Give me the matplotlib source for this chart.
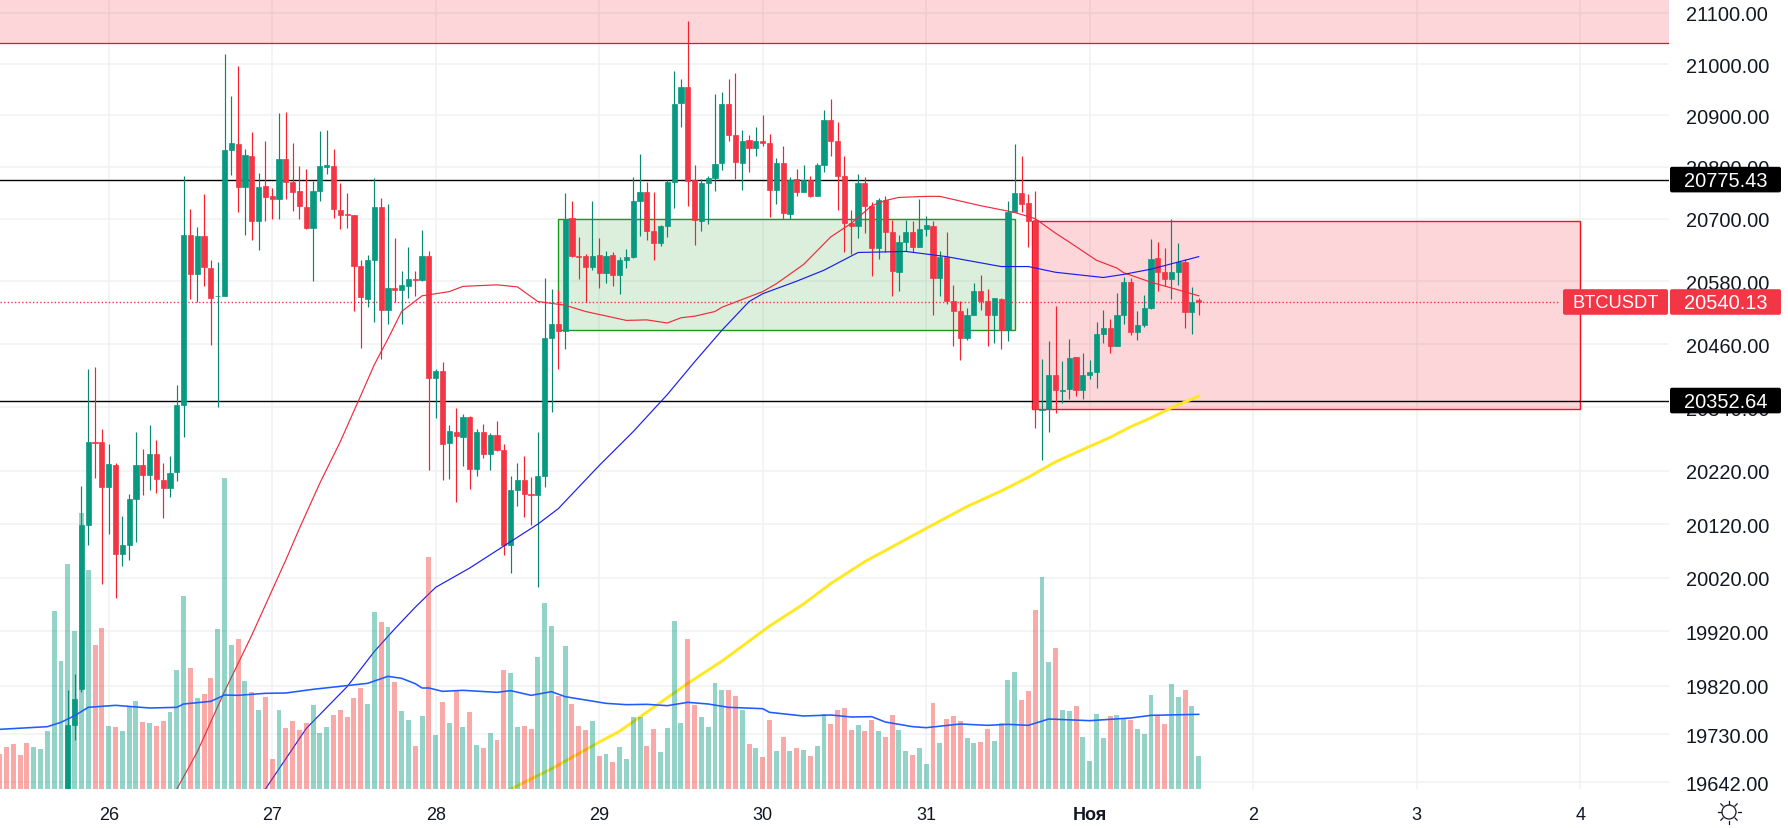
import math
import matplotlib
matplotlib.use('Agg')
import matplotlib.pyplot as plt
from matplotlib.patches import FancyBboxPatch, Rectangle, Circle
from matplotlib.lines import Line2D
from matplotlib.transforms import IdentityTransform

plt.rcParams['font.family'] = ['Liberation Sans', 'DejaVu Sans']

# hourly candles, hour 0 = 26 Oct 00:00, first candle on screen is hour -6
first_candle = -6
opens = [19630,19747,19813,20119,20275,20275,20189,20230,20064,20080,
         20167,20230,20212,20251,20203,20188,20217,20345,20669,20594,
         20666,20605,20551,20552,20832,20845,20762,20821,20695,20763,
         20743,20737,20816,20770,20754,20722,20682,20754,20799,20802,
         20717,20709,20707,20610,20546,20621,20722,20524,20566,20563,
         20570,20584,20583,20629,20396,20408,20272,20294,20284,20322,
         20224,20294,20251,20288,20259,20081,20183,20203,20177,20175,
         20210,20472,20498,20485,20702,20629,20629,20608,20630,20596,
         20630,20591,20620,20626,20735,20752,20677,20653,20685,20770,
         20924,20955,20774,20696,20768,20778,20807,20922,20862,20808,
         20853,20837,20850,20846,20756,20808,20709,20776,20751,20774,
         20743,20803,20891,20850,20783,20691,20686,20769,20725,20644,
         20736,20674,20598,20656,20675,20646,20680,20686,20586,20627,
         20542,20522,20471,20516,20561,20542,20516,20546,20486,20712,
         20749,20730,20698,20334,20337,20402,20371,20374,20435,20372,
         20401,20407,20480,20490,20456,20515,20578,20483,20496,20529,
         20624,20598,20584,20597,20617,20521,20543]
highs = [19811,19842,20192,20412,20416,20298,20271,20235,20136,20176,
         20294,20262,20307,20278,20234,20248,20382,20783,20718,20684,
         20748,20621,20617,21019,20938,20997,20834,20868,20789,20851,
         20760,20905,20907,20847,20802,20796,20773,20870,20871,20835,
         20768,20750,20708,20621,20631,20778,20739,20728,20663,20600,
         20645,20599,20678,20638,20412,20426,20307,20339,20328,20324,
         20298,20308,20292,20313,20270,20211,20234,20248,20208,20294,
         20587,20565,20563,20749,20735,20665,20632,20735,20663,20637,
         20636,20626,20641,20780,20824,20770,20751,20687,20774,20986,
         20970,21084,20804,20776,20783,20941,20946,20970,20983,20872,
         20861,20877,20901,20864,20817,20841,20780,20796,20803,20782,
         20807,20910,20931,20888,20822,20716,20787,20780,20733,20739,
         20743,20698,20668,20697,20695,20737,20705,20695,20637,20674,
         20573,20542,20528,20576,20592,20565,20547,20548,20735,20845,
         20821,20747,20754,20431,20466,20533,20427,20470,20436,20442,
         20430,20501,20525,20507,20558,20588,20586,20522,20554,20661,
         20655,20644,20700,20653,20623,20569,20548]
lows = [19630,19720,19808,20081,20206,20009,20101,19983,20042,20053,
        20086,20175,20184,20179,20131,20171,20201,20284,20545,20541,
        20571,20458,20340,20552,20785,20712,20669,20659,20640,20695,
        20700,20700,20737,20715,20700,20681,20581,20735,20787,20702,
        20681,20682,20522,20453,20531,20502,20432,20498,20541,20498,
        20548,20551,20581,20221,20320,20202,20205,20162,20229,20185,
        20210,20245,20221,20257,20062,20029,20154,20134,20118,20002,
        20190,20331,20413,20451,20627,20585,20541,20602,20567,20576,
        20571,20556,20606,20625,20666,20659,20621,20647,20665,20720,
        20878,20724,20650,20676,20690,20754,20794,20851,20776,20756,
        20791,20821,20841,20703,20729,20700,20700,20743,20751,20741,
        20743,20790,20822,20716,20636,20633,20662,20672,20590,20622,
        20635,20552,20562,20638,20635,20646,20666,20516,20551,20536,
        20456,20429,20468,20516,20525,20456,20462,20451,20465,20712,
        20712,20646,20301,20240,20293,20330,20348,20356,20361,20355,
        20393,20376,20462,20442,20456,20498,20478,20468,20492,20526,
        20561,20571,20546,20573,20491,20479,20515]
closes = [19748,19796,20118,20275,20273,20189,20232,20064,20080,20167,
          20230,20212,20251,20205,20188,20216,20344,20669,20594,20666,
          20607,20548,20552,20832,20846,20762,20823,20695,20762,20742,
          20738,20816,20770,20752,20724,20682,20754,20801,20803,20718,
          20708,20707,20610,20550,20621,20722,20524,20566,20564,20572,
          20584,20582,20629,20396,20408,20270,20295,20285,20322,20224,
          20294,20251,20288,20260,20081,20183,20203,20177,20175,20210,
          20471,20498,20484,20699,20629,20627,20608,20629,20596,20629,
          20591,20620,20626,20735,20752,20677,20653,20685,20770,20922,
          20955,20773,20698,20768,20778,20806,20923,20862,20809,20851,
          20837,20850,20847,20756,20808,20710,20775,20751,20775,20743,
          20803,20891,20851,20783,20692,20685,20769,20725,20644,20736,
          20675,20600,20656,20675,20646,20680,20687,20586,20626,20542,
          20522,20471,20516,20562,20542,20516,20547,20486,20712,20749,
          20729,20696,20337,20336,20401,20372,20373,20434,20372,20401,
          20407,20480,20490,20456,20515,20579,20483,20496,20529,20623,
          20598,20584,20597,20616,20521,20541,20540.13]

# volume pane starts further left, at hour -16
first_volume = -16
volumes = [105,127,135,102,139,125,120,174,533,385,
           674,473,828,658,432,483,190,185,174,245,
           265,200,198,190,203,232,357,579,363,273,
           284,333,480,934,432,450,325,290,236,275,
           90,238,183,203,178,198,252,167,185,222,
           236,215,273,303,254,531,500,487,321,235,
           206,130,219,696,163,260,199,295,185,231,
           132,123,167,147,356,348,185,190,180,397,
           557,489,279,429,254,189,178,203,98,105,
           82,127,90,215,215,130,180,111,183,504,
           199,449,252,215,187,318,296,296,279,236,
           134,123,95,208,114,155,114,123,116,100,
           129,224,194,236,243,176,192,174,206,174,
           155,222,176,114,102,123,75,257,137,210,
           220,204,153,137,141,180,144,199,326,351,
           267,293,537,635,381,423,238,234,248,155,
           84,224,153,220,222,214,206,180,164,282,
           220,195,314,275,296,249,98]
volume_sides = ("rrrrrggggg" "ggggrrgrgg" "grgrrgggrg" "rrgggrgrgr" "rgrrrrgggr"
                "rrrrggrgrg" "grgrgrgrgr" "grgrrggrrg" "ggrgrrrgrg" "rggggrrggg"
                "grrggggrrg" "rgrrgrgrgr" "ggrrrrgrrg" "rrggrggrgr" "rrggrrgrgg"
                "rrrggrggrg" "gggrggrggg" "rrggrgg")

volume_ma_hours = [-16,-9,-7,-5,-3,1,6,10,11,15,17,19,23,26,30,34,38,41,43,45,46,47,49,52,57,59,62,65,
                   67,70,73,76,79,82,85,88,91,96,97,102,106,109,112,114,118,120,125,129,132,135,138,144,150,153,160]
volume_ma = [179,187,200,220,245,251,243,245,255,263,282,281,287,288,299,308,317,338,332,316,303,303,293,296,290,295,281,292,
             277,267,257,253,254,250,260,255,245,241,230,219,222,216,217,201,187,184,195,191,194,191,210,205,213,221,224]

ma_red_hours = [10,13,17,21,26,28,31,34,37,39,41,43,46,50,52,57,60,63,67,70,76,79,82,84,86,89,90,96,98,102,106,109,
                112,114,116,120,122,128,133,136,139,141,145,148,149,153,156,160]
ma_red = [19630,19698,19809,19913,20053,20112,20197,20275,20362,20421,20470,20522,20552,20560,20570,20573,20569,20541,
          20534,20522,20505,20506,20500,20510,20513,20522,20530,20560,20575,20612,20665,20691,
          20725,20735,20741,20743,20743,20725,20712,20700,20672,20655,20620,20605,20596,20578,20567,20552]

ma_blue_hours = [23,29,35,39,42,45,48,53,58,63,66,72,77,82,86,90,94,96,101,105,110,117,123,131,135,139,146,149,153,160]
ma_blue = [19630,19741,19818,19883,19925,19965,20002,20038,20079,20120,20149,20230,20294,20364,20426,20486,20541,20556,
           20580,20601,20635,20637,20627,20608,20608,20597,20587,20593,20603,20627]

ma_yellow_hours = [59,65,72,75,85,90,97,102,106,111,120,126,131,135,139,144,147,150,153,156,160]
ma_yellow = [19630,19667,19716,19736,19824,19865,19930,19971,20009,20050,20112,20153,20182,20208,20237,20266,20283,
             20303,20320,20339,20361]

price_ticks = [21100,21000,20900,20800,20700,20580,20460,20340,20220,20120,20020,19920,19820,19730,19642]
day_hours = [0,24,48,72,96,120,144,168,192,216]
day_labels = ['26','27','28','29','30','31','Ноя','2','3','4']

last_price = 20540.13
resistance = 20775.43
support = 20352.64
top_zone_low = 21042
green_zone = (66, 133, 20486, 20700)
red_zone = (135.6, 216, 20337, 20696)

W, H = 1788, 829
plot_w, plot_h = 1669, 790
hour_px = 6.8125
hour0_px = 108.7

GREEN = '#089981'
RED = '#f23645'

fig = plt.figure(figsize=(W / 100, H / 100), dpi=100)
ax = fig.add_axes([0, 1 - plot_h / H, plot_w / W, plot_h / H])
ax.set_yscale('log')
ax.set_xlim(-hour0_px / hour_px, (plot_w - hour0_px) / hour_px)
ax.set_ylim(19630.1, 21127.5)

for s in ax.spines.values():
    s.set_visible(False)
ax.yaxis.tick_right()
ax.minorticks_off()
ax.set_yticks(price_ticks)
ax.set_yticklabels(['%.2f' % p for p in price_ticks], fontsize=14.4, color='#131722')
ax.set_xticks(day_hours)
ax.set_xticklabels(day_labels, fontsize=13, color='#131722')
ax.get_xticklabels()[6].set_fontweight('bold')
ax.tick_params(axis='y', which='both', length=0, pad=12.2)
ax.tick_params(axis='x', which='both', length=0, pad=12)
ax.grid(True, color='#f0f1f3', lw=1.1, zorder=0)
ax.set_axisbelow(True)

# zones
ax.axhspan(top_zone_low, 21300, facecolor=RED, alpha=0.2, lw=0, zorder=1)
ax.axhline(top_zone_low, color='#f5101f', lw=0.9, zorder=1.1)
x0, x1, y0, y1 = green_zone
ax.add_patch(Rectangle((x0, y0), x1 - x0, y1 - y0, facecolor=(0.298, 0.686, 0.314, 0.2),
                       edgecolor='#1a9a1a', lw=1.0, zorder=1.2))
x0, x1, y0, y1 = red_zone
ax.add_patch(Rectangle((x0, y0), x1 - x0, y1 - y0, facecolor=(0.949, 0.212, 0.271, 0.2),
                       edgecolor='#f5101f', lw=1.0, zorder=1.2))

# levels
ax.axhline(resistance, color='black', lw=1.0, zorder=1.5)
ax.axhline(support, color='black', lw=1.0, zorder=1.5)
ax.plot([ax.get_xlim()[0], 213], [last_price, last_price], color=RED, lw=1.0,
        dashes=(1, 1.6), dash_capstyle='butt', zorder=1.6)

# candles
hours = [first_candle + i for i in range(len(opens))]
for h, o, hi, lo, c in zip(hours, opens, highs, lows, closes):
    up = c >= o
    ax.vlines(h, lo, hi, color='#07876f' if up else '#fa1f2d', lw=0.85, zorder=3)
    ax.bar(h, abs(c - o), bottom=min(o, c), width=0.76, color=GREEN if up else RED,
           edgecolor=GREEN if up else RED, lw=0.5, zorder=3.1)

ax.plot(ma_red_hours, ma_red, color='#ef2b3c', lw=0.85, zorder=4)
ax.plot(ma_blue_hours, ma_blue, color='#1c1cf0', lw=0.85, zorder=4)
ax.plot(ma_yellow_hours, ma_yellow, color='#ffe81f', lw=2.1, zorder=4)

# volume sits on top of the price series
vol = fig.add_axes(ax.get_position(), sharex=ax, zorder=5)
vol.patch.set_visible(False)
vol.set_ylim(0, plot_h * 3)
vol.axis('off')
vol_hours = [first_volume + i for i in range(len(volumes))]
vol_colors = [GREEN if s == 'g' else '#f33a35' for s in volume_sides]
vol.bar(vol_hours, volumes, width=0.72, color=vol_colors, alpha=0.43, lw=0)
vol.plot(volume_ma_hours, volume_ma, color='#1f5cff', lw=1.15)

# price tags, placed in pixels around the price level
def price_px(p):
    return ax.transData.transform((0, p))[1]

def tag(x, w, price, text, color, size):
    y = price_px(price)
    fig.add_artist(FancyBboxPatch((x, y - 12.8), w, 25.6, boxstyle='round,pad=0,rounding_size=2',
                                  facecolor=color, edgecolor='none', transform=IdentityTransform(), zorder=6))
    fig.text(x + w / 2, y - 0.5, text, color='white', fontsize=size, ha='center', va='center',
             transform=IdentityTransform(), zorder=7)

tag(1670, 111, resistance, '20775.43', 'black', 14.4)
tag(1670, 111, support, '20352.64', 'black', 14.4)
tag(1670, 111, last_price, '20540.13', RED, 14.4)
tag(1563, 105, last_price, 'BTCUSDT', RED, 13.2)

# sun icon, theme switch in the corner
cx, cy, r = 1729, H - 813, 7
fig.add_artist(Circle((cx, cy), r, facecolor='none', edgecolor='#131722', lw=0.9, transform=IdentityTransform()))
for i in range(8):
    a = math.pi / 4 * i
    fig.add_artist(Line2D([cx + (r + 1.5) * math.cos(a), cx + (r + 4.5) * math.cos(a)],
                          [cy + (r + 1.5) * math.sin(a), cy + (r + 4.5) * math.sin(a)],
                          color='#131722', lw=0.9, transform=IdentityTransform()))

fig.savefig('out.png', dpi=100)
